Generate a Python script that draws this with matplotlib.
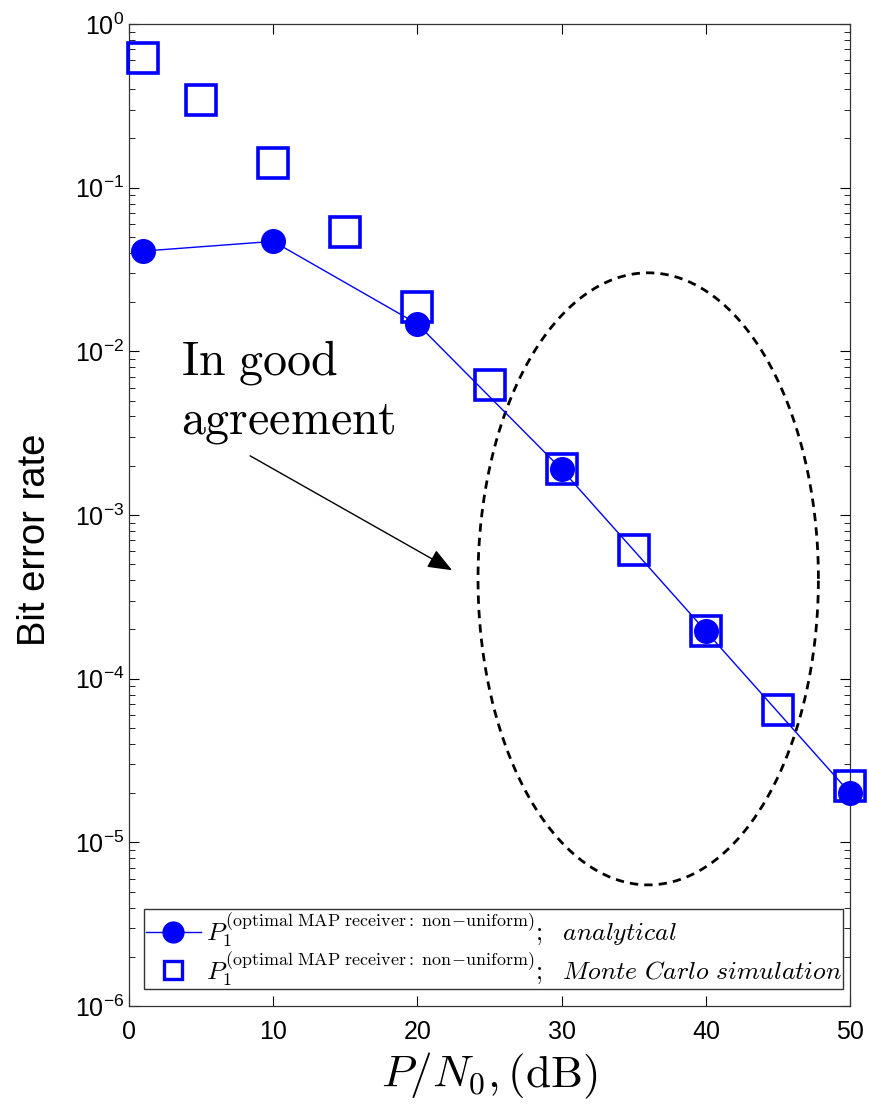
import numpy as np
import matplotlib
matplotlib.use("Agg")
import matplotlib.pyplot as plt
from matplotlib.lines import Line2D

plt.rcParams['font.family'] = ['Liberation Sans', 'DejaVu Sans']
plt.rcParams['mathtext.fontset'] = 'cm'

# Data
snr_analytical = [1, 10, 20, 30, 40, 50]
ber_analytical = [0.041, 0.047, 0.0147, 0.0019, 1.95e-4, 2.0e-5]

snr_sim = [1, 5, 10, 15, 20, 25, 30, 35, 40, 45, 50]
ber_sim = [0.62, 0.343, 0.141, 0.0536, 0.0187, 0.0062, 0.0019, 6.1e-4, 1.95e-4, 6.4e-5, 2.2e-5]

xticks = [0, 10, 20, 30, 40, 50]

# Ellipse annotation (centre in dB, centre in log10 BER, half-widths)
ell_cx, ell_cy, ell_a, ell_b = 36.0, -3.39, 11.8, 1.87

fig = plt.figure(figsize=(8.69, 11.07), dpi=100)
ax = fig.add_axes([0.1484, 0.0912, 0.8299, 0.8871])

blue = (0, 0, 1)
ax.plot(snr_analytical, ber_analytical, '-', color=blue, lw=1.0,
        marker='o', markersize=17, markerfacecolor=blue, markeredgecolor=blue,
        zorder=3, clip_on=False)
ax.plot(snr_sim, ber_sim, linestyle='none', marker='s', markersize=21,
        markerfacecolor='none', markeredgecolor=blue, markeredgewidth=2.6,
        zorder=4, clip_on=False)

# dashed ellipse
t = np.linspace(0, 2 * np.pi, 400)
ax.plot(ell_cx + ell_a * np.cos(t), 10 ** (ell_cy + ell_b * np.sin(t)),
        color='black', lw=2.0, linestyle=(0, (3, 2.2)), zorder=2)

# annotation text and arrow
ax.text(0.072, 0.6426, r'$\mathrm{In\ good}$', transform=ax.transAxes,
        fontsize=34.5, va='baseline', ha='left')
ax.text(0.072, 0.5835, r'$\mathrm{agreement}$', transform=ax.transAxes,
        fontsize=34.5, va='baseline', ha='left')
ax.annotate('', xy=(22.4, 4.6e-4), xytext=(8.4, 2.3e-3),
            arrowprops=dict(arrowstyle='-|>,head_length=1.5,head_width=0.6',
                            color='black', lw=1.0, shrinkA=0, shrinkB=0))

ax.set_yscale('log')
ax.set_xlim(0, 50)
ax.set_ylim(1e-6, 1)
ax.set_xticks(xticks)
ax.tick_params(which='both', direction='in', top=True, right=True, labelsize=18)
ax.tick_params(which='major', length=7)
ax.tick_params(which='minor', length=4)
ax.tick_params(axis='x', pad=10)
for s in ax.spines.values():
    s.set_linewidth(0.9)
    s.set_color('#333333')

ax.set_ylabel('Bit error rate', fontsize=27.5)
ax.yaxis.set_label_coords(-0.105, 0.4745)
ax.set_xlabel(r'$P/N_0,(\mathrm{dB})$', fontsize=32.5)
ax.xaxis.label.set_va('baseline')
ax.xaxis.set_label_coords(0.5, -0.0825)

lbl = r'$P_1^{(\mathrm{optimal\ MAP\ receiver{:}\ non\!-\!uniform})}$'
h1 = Line2D([], [], color=blue, lw=1.0, marker='o', markersize=15,
            markerfacecolor=blue, markeredgecolor=blue)
h2 = Line2D([], [], linestyle='none', marker='s', markersize=13,
            markerfacecolor='none', markeredgecolor=blue, markeredgewidth=2.4)
leg = ax.legend([h1, h2],
                [lbl + r'$;\ \ analytical$', lbl + r'$;\ \ Monte\ Carlo\ simulation$'],
                loc='lower right', bbox_to_anchor=(0.9905, 0.0173),
                fontsize=18.5, frameon=True, fancybox=False, edgecolor='black',
                handlelength=2.15, handletextpad=0.2, borderpad=0.05, labelspacing=0.0,
                borderaxespad=0.0)
leg.get_frame().set_linewidth(1.0)

fig.savefig('out.png', dpi=100)
